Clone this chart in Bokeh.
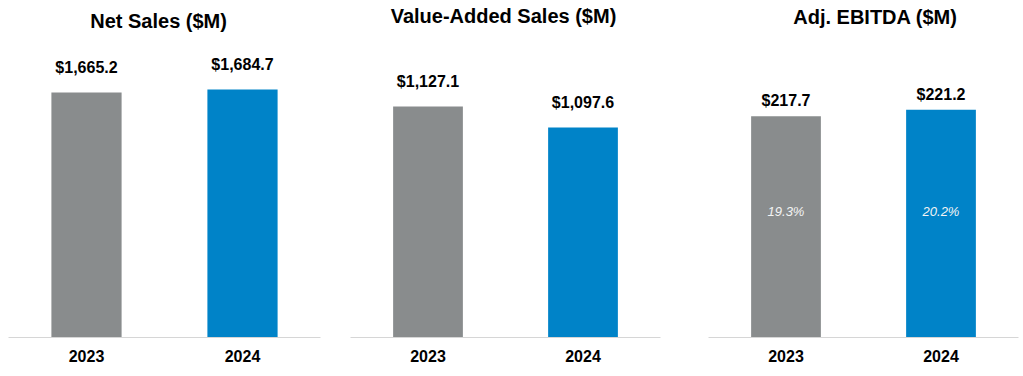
from bokeh.plotting import figure
from bokeh.models import FactorRange, Range1d, Label
from bokeh.layouts import row
from bokeh.embed import file_html
from bokeh.resources import INLINE
from bokeh.core.properties import value

# ---- data ----
years = ["2023", "2024"]
net_sales = [1665.2, 1684.7]
value_added_sales = [1127.1, 1097.6]
adj_ebitda = [217.7, 221.2]
ebitda_margin = ["19.3%", "20.2%"]
titles = ["Net Sales ($M)", "Value-Added Sales ($M)", "Adj. EBITDA ($M)"]

GRAY = "#898C8D"
BLUE = "#0083C8"
FONT = "Liberation Sans"
H = 376


def make_panel(title, vals, y0, y1, width, bl, br, bb, title_x, title_y, lab_off):
    p = figure(x_range=FactorRange(factors=years), y_range=Range1d(y0, y1),
               width=width, height=H, output_backend="svg", toolbar_location=None,
               y_axis_location=None, min_border_left=bl, min_border_right=br,
               min_border_top=0, min_border_bottom=bb, background_fill_color="white",
               border_fill_color="white")
    p.outline_line_color = None
    p.grid.visible = False
    p.vbar(x=years, top=vals, bottom=y0, width=0.45, color=[GRAY, BLUE], line_color=None)
    p.text(x=years, y=vals, text=[f"${v:,.1f}" for v in vals], text_align="center",
           text_baseline="middle", y_offset=-lab_off, text_font=value(FONT),
           text_font_style="bold", text_font_size="16px", text_color="black")
    ax = p.xaxis[0]
    ax.axis_line_color = "#D6D6D6"
    ax.axis_line_width = 1
    ax.major_tick_line_color = None
    ax.minor_tick_line_color = None
    ax.major_label_standoff = 6
    ax.major_label_text_font = FONT
    ax.major_label_text_font_style = "bold"
    ax.major_label_text_font_size = "16px"
    ax.major_label_text_color = "black"
    p.add_layout(Label(x=title_x, y=title_y, text=title, text_align="center",
                       text_baseline="middle", text_font=FONT, text_font_style="bold",
                       text_font_size="20px", text_color="black"))
    return p


p1 = make_panel(titles[0], net_sales, 0, 2289.9, 338, 8, 18, 39, 0.962, 2154, 25)
p2 = make_panel(titles[1], value_added_sales, 800, 1277.3, 340, 12, 18, 39, 0.987, 1256, 25)
p3 = make_panel(titles[2], adj_ebitda, 100, 279.3, 345, 30, 5, 36, 1.077, 270.4, 15.5)
p3.text(x=years, y=167, text=ebitda_margin, text_align="center", text_baseline="middle",
        text_font=value(FONT), text_font_style="italic", text_font_size="13px",
        text_color="#F4F4F4")

layout = row(p1, p2, p3, spacing=0)
open("out.html", "w").write(file_html(layout, INLINE))
